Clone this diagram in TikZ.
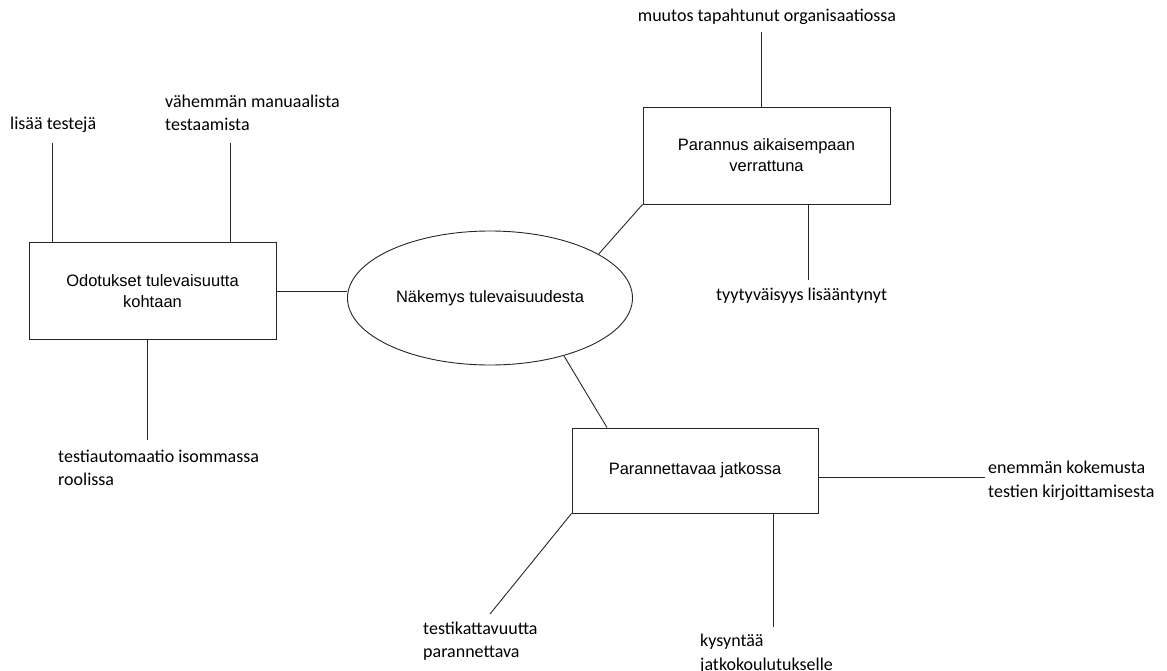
\documentclass[tikz,border=0pt]{standalone}
\usepackage{fontspec}
\setmainfont{Liberation Sans}
\newfontfamily\leaffont{Carlito}
\usetikzlibrary{shapes.geometric}
\begin{document}
\begin{tikzpicture}[x=1pt,y=-1pt,
  topic/.style={draw=black!85, line width=0.9pt, align=center, inner sep=0pt,
    font=\fontsize{16.5}{21}\selectfont},
  centre/.style={draw=black!85, line width=0.9pt, ellipse, inner sep=0pt,
    font=\fontsize{16.5}{21}\selectfont},
  leaf/.style={align=left, inner sep=0pt, font=\leaffont\fontsize{18}{23.5}\selectfont},
  link/.style={draw=black!85, line width=0.9pt}]
\useasboundingbox (0,0) rectangle (1167,671);

% central idea
\node[centre, minimum width=285pt, minimum height=134pt] (core) at (490,298) {Näkemys tulevaisuudesta};

% main branches
\node[topic, minimum width=247pt, minimum height=97pt] (expect) at (152.5,291) {Odotukset tulevaisuutta\\kohtaan};
\node[topic, minimum width=247pt, minimum height=97pt] (better) at (766.5,155.5) {Parannus aikaisempaan\\verrattuna};
\node[topic, minimum width=246pt, minimum height=85pt] (improve) at (695,470.5) {Parannettavaa jatkossa};

% leaves
\node[leaf, anchor=west] (l1) at (10,125) {lisää testejä};
\node[leaf, anchor=west] (l2) at (165,113) {vähemmän manuaalista\\testaamista};
\node[leaf, anchor=west] (l3) at (58,468) {testiautomaatio isommassa\\roolissa};
\node[leaf, anchor=center] (l4) at (767,17) {muutos tapahtunut organisaatiossa};
\node[leaf, anchor=west] (l5) at (716,296) {tyytyväisyys lisääntynyt};
\node[leaf, anchor=west] (l6) at (988,481) {enemmän kokemusta\\testien kirjoittamisesta};
\node[leaf, anchor=west] (l7) at (423,641) {testikattavuutta\\parannettava};
\node[leaf, anchor=west] (l8) at (700,654) {kysyntää\\jatkokoulutukselle};

% free ends of the leaf connectors
\coordinate (e1) at (52,143);
\coordinate (e2) at (230,143);
\coordinate (e3) at (147,440);
\coordinate (e4) at (761,32);
\coordinate (e5) at (808,280);
\coordinate (e6) at (985,477);
\coordinate (e7) at (490,614);
\coordinate (e8) at (773,627);

% branch connectors
\draw[link] (expect.east) -- (expect.east -| core.west);
\draw[link] (core.22.5) -- (better.south west);
\draw[link] (core.-38.5) -- (improve.north west -| 607,0);

% leaf connectors
\draw[link] (expect.north west -| e1) -- (e1);
\draw[link] (expect.north west -| e2) -- (e2);
\draw[link] (expect.south west -| e3) -- (e3);
\draw[link] (better.north west -| e4) -- (e4);
\draw[link] (better.south west -| e5) -- (e5);
\draw[link] (improve.east |- e6) -- (e6);
\draw[link] (improve.south west) -- (e7);
\draw[link] (improve.south west -| e8) -- (e8);
\end{tikzpicture}
\end{document}
